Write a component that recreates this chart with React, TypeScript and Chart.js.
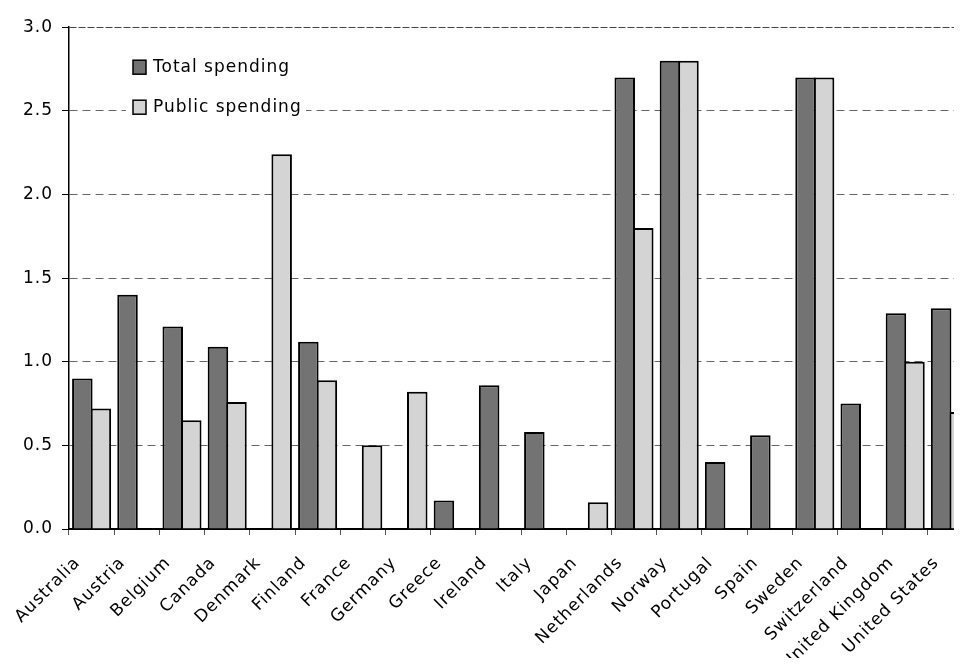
import React, { useEffect, useRef } from 'react';
import { Chart, registerables } from 'chart.js';

Chart.register(...registerables);

const categories = [
  'Australia', 'Austria', 'Belgium', 'Canada', 'Denmark', 'Finland', 'France',
  'Germany', 'Greece', 'Ireland', 'Italy', 'Japan', 'Netherlands', 'Norway',
  'Portugal', 'Spain', 'Sweden', 'Switzerland', 'United Kingdom', 'United States',
];

const totalSpending = [
  0.9, 1.4, 1.21, 1.09, null, 1.12, null,
  null, 0.17, 0.86, 0.58, null, 2.7, 2.8,
  0.4, 0.56, 2.7, 0.75, 1.29, 1.32,
];

const publicSpending = [
  0.72, null, 0.65, 0.76, 2.24, 0.89, 0.5,
  0.82, null, null, null, 0.16, 1.8, 2.8,
  null, null, 2.7, null, 1.0, 0.7,
];

const seriesLabels = ['Total spending', 'Public spending'];
const seriesColors = ['#737373', '#d4d4d4'];

const yMin = 0;
const yMax = 3;
const yStep = 0.5;

const W = 965;
const H = 650;
const FONT_FAMILY = "'DejaVu Sans', sans-serif";
const FONT_SIZE = 17;

export default function App() {
  const ref = useRef<HTMLCanvasElement>(null);

  useEffect(() => {
    if (!ref.current) return;

    const spacingPlugin = {
      id: 'spacing',
      beforeUpdate(chart: any) {
        chart.ctx.letterSpacing = '1px';
      },
      beforeDraw(chart: any) {
        chart.ctx.letterSpacing = '1px';
      },
    };

    const legendPlugin = {
      id: 'insideLegend',
      beforeDatasetsDraw(chart: any) {
        const { ctx, chartArea } = chart;
        ctx.save();
        ctx.fillStyle = '#ffffff';
        ctx.fillRect(chartArea.left + 57, chartArea.top + 22, 180, 74);
        chart.data.datasets.forEach((ds: any, i: number) => {
          const x = chartArea.left + 64;
          const y = chartArea.top + 33 + i * 40;
          ctx.fillStyle = ds.backgroundColor;
          ctx.fillRect(x, y, 13, 14);
          ctx.lineWidth = 1.5;
          ctx.strokeStyle = '#000';
          ctx.strokeRect(x, y, 13, 14);
          ctx.fillStyle = '#000';
          ctx.font = `${FONT_SIZE}px ${FONT_FAMILY}`;
          ctx.textBaseline = 'middle';
          ctx.textAlign = 'left';
          ctx.fillText(ds.label, chartArea.left + 84, y + 7);
        });
        ctx.restore();
      },
    };

    const barCommon = {
      borderColor: '#000',
      borderWidth: 2,
      categoryPercentage: 0.82,
      barPercentage: 1.107,
    };

    const chart = new Chart(ref.current, {
      type: 'bar',
      data: {
        labels: categories,
        datasets: [
          {
            label: seriesLabels[0],
            data: totalSpending,
            backgroundColor: seriesColors[0],
            ...barCommon,
          },
          {
            label: seriesLabels[1],
            data: publicSpending,
            backgroundColor: seriesColors[1],
            ...barCommon,
          },
        ],
      },
      options: {
        responsive: false,
        maintainAspectRatio: false,
        animation: false,
        devicePixelRatio: 1,
        layout: { padding: { left: 0, top: 17, right: 0, bottom: 0 } },
        plugins: {
          legend: { display: false },
          tooltip: { enabled: false },
        },
        scales: {
          x: {
            offset: true,
            grid: {
              offset: true,
              drawOnChartArea: false,
              drawTicks: true,
              tickLength: 6,
              tickColor: '#555',
              tickWidth: 1,
            },
            border: { display: true, color: '#000', width: 2 },
            ticks: {
              autoSkip: false,
              maxRotation: 45,
              minRotation: 45,
              color: '#000',
              font: { family: FONT_FAMILY, size: FONT_SIZE },
              padding: 18,
              labelOffset: -14,
            },
            afterFit: (s: any) => {
              s.height = H - 521;
              s.paddingLeft = 0;
              s.paddingRight = 0;
            },
          },
          y: {
            min: yMin,
            max: yMax,
            ticks: {
              stepSize: yStep,
              color: '#000',
              font: { family: FONT_FAMILY, size: FONT_SIZE },
              padding: 9,
              callback: (v: any) => Number(v).toFixed(1),
            },
            grid: {
              color: (c: any) => (c.tick && c.tick.value === yMax ? '#444' : '#666'),
              lineWidth: 1,
              drawTicks: true,
              tickLength: 7,
              tickColor: '#000',
              tickWidth: 1,
            },
            border: {
              display: true,
              color: '#000',
              width: 1.5,
              dash: (c: any) => (c.tick && c.tick.value === yMax ? [7, 2] : [8, 5]),
            },
            afterFit: (s: any) => {
              s.width = 61;
            },
          },
        },
      },
      plugins: [spacingPlugin, legendPlugin],
    });

    return () => chart.destroy();
  }, []);

  return (
    <div style={{ width: 954, height: 657, overflow: 'hidden' }}>
      <canvas
        ref={ref}
        width={W}
        height={H}
        style={{ width: W + 'px', height: H + 'px', display: 'block' }}
      />
    </div>
  );
}
